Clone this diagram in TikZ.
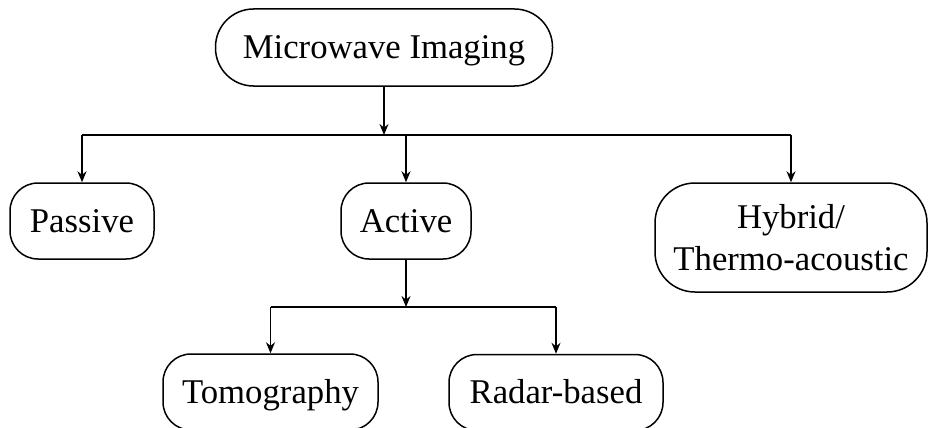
\documentclass[tikz,border=0pt]{standalone}
\usepackage{fontspec}
\setmainfont{Liberation Serif}
\usetikzlibrary{arrows.meta}
\tikzset{
  box/.style={draw, line width=1.5pt, rounded corners=28pt, inner sep=0pt, align=center,
    font=\fontsize{34.7}{42}\selectfont},
  oneline/.style={text height=30pt, text depth=8pt},
  conn/.style={line width=1.5pt},
  arr/.style={conn, -{Stealth[length=11pt,width=9pt]}}
}
\begin{document}
\begin{tikzpicture}[x=1pt,y=-1pt]
\useasboundingbox (0,0) rectangle (929,428);
\node[box, oneline, rounded corners=38pt, minimum width=337pt, minimum height=77pt] (mi) at (384,47.5) {Microwave Imaging};
\node[box, oneline, minimum width=144pt, minimum height=76pt] (pas) at (82,221) {Passive};
\node[box, oneline, minimum width=130pt, minimum height=76pt] (act) at (406,221) {Active};
\node[box, rounded corners=40pt, minimum width=272pt, minimum height=109pt] (hyb) at (791,237.5) {Hybrid/\\Thermo-acoustic};
\node[box, oneline, minimum width=215pt, minimum height=76pt] (tom) at (270.5,392) {Tomography};
\node[box, oneline, minimum width=214pt, minimum height=76pt] (rad) at (556,392.5) {Radar-based};
\coordinate (j1) at (384,135);
\coordinate (j2) at (406,307);
\draw[arr] (mi) -- (j1);
\draw[conn] (pas.north |- j1) -- (hyb.north |- j1);
\draw[arr] (pas.north |- j1) -- (pas);
\draw[arr] (act.north |- j1) -- (act);
\draw[arr] (hyb.north |- j1) -- (hyb);
\draw[arr] (act) -- (j2);
\draw[conn] (tom.north |- j2) -- (rad.north |- j2);
\draw[arr] (tom.north |- j2) -- (tom);
\draw[arr] (rad.north |- j2) -- (rad);
\end{tikzpicture}
\end{document}
